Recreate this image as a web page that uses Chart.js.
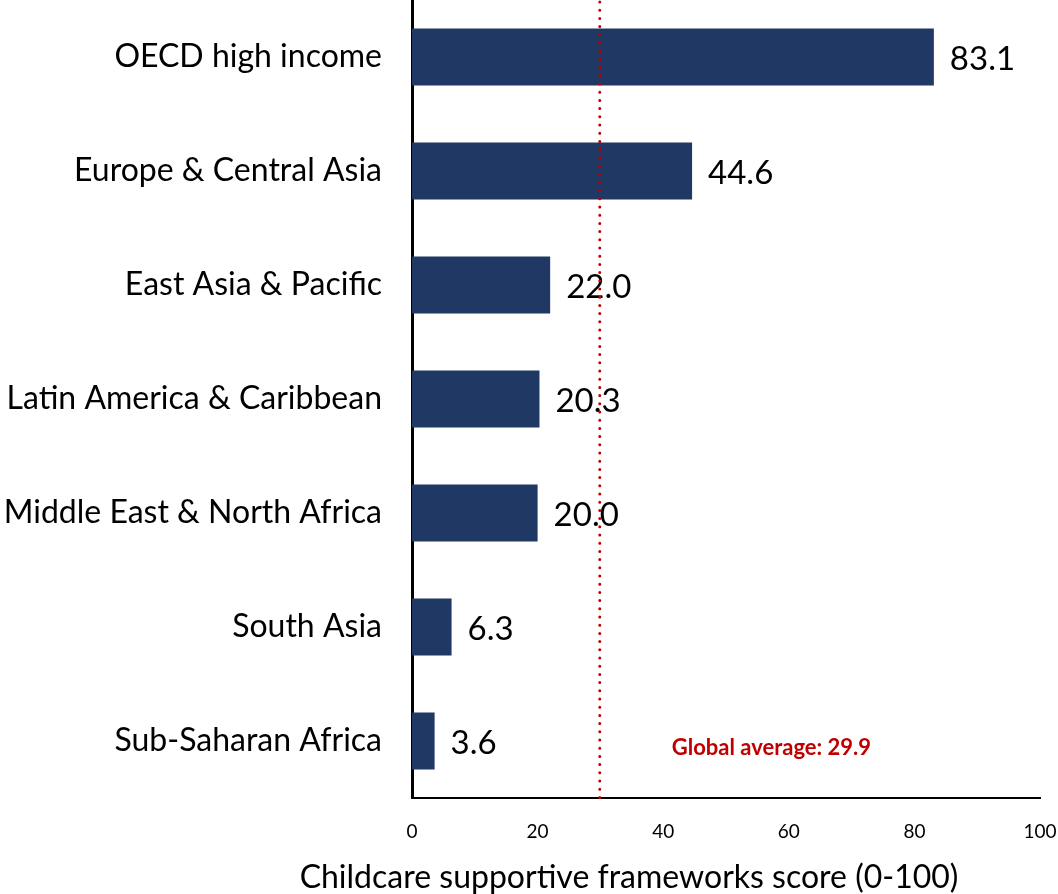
<!DOCTYPE html>
<html>
<head>
<meta charset="utf-8">
<script src="https://cdn.jsdelivr.net/npm/chart.js@4.4.1/dist/chart.umd.min.js"></script>
<style>
  html, body { margin: 0; padding: 0; background: #fff; }
  #wrap { width: 1058px; height: 894px; position: relative; }
</style>
</head>
<body>
<div id="wrap"><canvas id="chart"></canvas></div>
<script>
const regions = [
    'OECD high income',
    'Europe & Central Asia',
    'East Asia & Pacific',
    'Latin America & Caribbean',
    'Middle East & North Africa',
    'South Asia',
    'Sub-Saharan Africa'
];
const scores = [83.1, 44.6, 22.0, 20.3, 20.0, 6.3, 3.6];
const globalAverage = 29.9;
const xTicks = [0, 20, 40, 60, 80, 100];
const axisTitle = 'Childcare supportive frameworks score (0-100)';
const averageLabel = 'Global average: 29.9';

const FONT = 'Lato, "Noto Sans", sans-serif';
const RED = '#c00000';

// value labels at the bar ends + avg line + axis title
const extras = {
    id: 'extras',
    afterDatasetsDraw(chart) {
        const ctx = chart.ctx;
        const x = chart.scales.x;
        const area = chart.chartArea;
        const meta = chart.getDatasetMeta(0);

        ctx.save();
        ctx.fillStyle = '#000';
        ctx.font = '33px ' + FONT;
        ctx.textAlign = 'left';
        ctx.textBaseline = 'middle';
        meta.data.forEach((bar, i) => {
            ctx.fillText(scores[i].toFixed(1), bar.x + 16, bar.y + 2);
        });

        // dotted average line
        const ax = x.getPixelForValue(globalAverage);
        ctx.strokeStyle = RED;
        ctx.lineWidth = 3;
        ctx.lineCap = 'round';
        ctx.setLineDash([0, 8.2]);
        ctx.beginPath();
        ctx.moveTo(ax, area.top + 2);
        ctx.lineTo(ax, area.bottom);
        ctx.stroke();
        ctx.setLineDash([]);

        ctx.fillStyle = RED;
        ctx.font = 'bold 22px ' + FONT;
        ctx.fillText(averageLabel, ax + 72, 748);

        ctx.fillStyle = '#000';
        ctx.font = '32px ' + FONT;
        ctx.textAlign = 'center';
        ctx.fillText(axisTitle, 629, 878);
        ctx.restore();
    }
};

new Chart(document.getElementById('chart'), {
    type: 'bar',
    data: {
        labels: regions,
        datasets: [{
            data: scores,
            backgroundColor: '#203864',
            borderWidth: 0,
            categoryPercentage: 1,
            barPercentage: 0.5
        }]
    },
    options: {
        indexAxis: 'y',
        responsive: true,
        maintainAspectRatio: false,
        animation: false,
        layout: { padding: { top: 0, right: 18, bottom: 0, left: 0 } },
        plugins: {
            legend: { display: false },
            tooltip: { enabled: false }
        },
        scales: {
            x: {
                min: 0,
                max: 100,
                afterBuildTicks: axis => { axis.ticks = xTicks.map(v => ({ value: v })); },
                grid: { display: false, drawTicks: false },
                border: { display: true, color: '#000', width: 2 },
                ticks: {
                    color: '#000',
                    padding: 22,
                    font: { family: FONT, size: 19 }
                },
                afterFit: axis => {
                    axis.height = 96;
                    axis.paddingLeft = 0;
                    axis.paddingRight = 0;
                }
            },
            y: {
                grid: { display: false, drawTicks: false },
                border: { display: true, color: '#000', width: 3 },
                ticks: {
                    color: '#000',
                    padding: 30,
                    font: { family: FONT, size: 32 }
                },
                afterFit: axis => {
                    axis.width = 412;
                    axis.paddingTop = 0;
                    axis.paddingBottom = 0;
                }
            }
        }
    },
    plugins: [extras]
});
</script>
</body>
</html>
